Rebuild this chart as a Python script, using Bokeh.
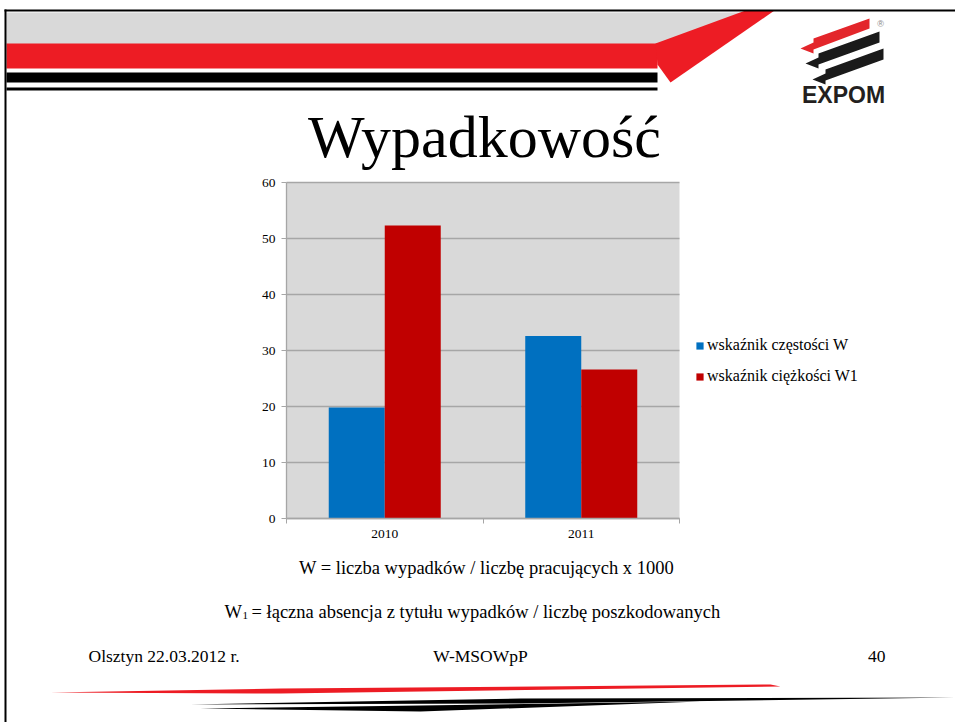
from bokeh.plotting import figure
from bokeh.models import (Range1d, FixedTicker, Legend, LegendItem, Label,
                          ColumnDataSource, LinearAxis)
from bokeh.transform import dodge
from bokeh.embed import file_html
from bokeh.resources import INLINE

# ---------------- data ----------------
years = ["2010", "2011"]
w_values = [19.8, 32.6]
w1_values = [52.3, 26.6]
y_ticks = [0, 10, 20, 30, 40, 50, 60]
series_names = ["wskaźnik częstości W", "wskaźnik ciężkości W1"]
series_colors = ["#0070C0", "#C00000"]

title_text = "Wypadkowość"
formula1 = "W = liczba wypadków / liczbę pracujących x 1000"
formula2_w = "W"
formula2_sub = "1"
formula2_rest = "= łączna absencja z tytułu wypadków / liczbę poszkodowanych"
footer_left = "Olsztyn 22.03.2012 r."
footer_mid = "W-MSOWpP"
footer_right = "40"
logo_text = "EXPOM"

# ---------------- layout (page pixels) ----------------
W, H = 955, 722
PL, PR, PT, PB = 286, 679, 182, 518      # plot area in page pixels
Y_MAX = y_ticks[-1]
N = len(years)

SERIF = "Liberation Serif"
SANS = "Liberation Sans"
BASE_SHIFT = 0.355   # rendered baseline sits this many em below the anchor

xs_per_px = N / (PR - PL)
ys_per_px = Y_MAX / (PB - PT)
x_rng = Range1d(-PL * xs_per_px, (W - PL) * xs_per_px)
y_rng = Range1d(-(H - PB) * ys_per_px, PB * ys_per_px)

p = figure(width=W, height=H, x_range=x_rng, y_range=y_rng,
           x_axis_type=None, y_axis_type=None,
           output_backend="svg", toolbar_location=None,
           min_border=0, min_border_left=0, min_border_right=0,
           min_border_top=0, min_border_bottom=0)
p.grid.visible = False
p.outline_line_color = None
p.background_fill_color = "white"
p.border_fill_color = "white"
p.extra_x_ranges = {"px": Range1d(0, W)}
p.extra_y_ranges = {"py": Range1d(H, 0)}


def box(l, t, r, b, color):
    p.quad(left=[l], right=[r], top=[t], bottom=[b], fill_color=color, line_color=None,
           x_range_name="px", y_range_name="py")


def poly(pts, color):
    p.patch(x=[a for a, _ in pts], y=[b for _, b in pts], fill_color=color, line_color=None,
            x_range_name="px", y_range_name="py")


def label(x, baseline, text, size, font=SERIF, align="left", color="black", style="normal"):
    y = baseline - BASE_SHIFT * size
    p.add_layout(Label(x=x, y=y, text=text, text_font=font, text_font_size=f"{size}px",
                       text_align=align, text_baseline="alphabetic",
                       text_color=color, text_font_style=style,
                       x_range_name="px", y_range_name="py"))


# ---------------- chart ----------------
p.quad(left=[0], right=[N], bottom=[0], top=[Y_MAX], fill_color="#D9D9D9", line_color=None)
p.segment(x0=[0] * len(y_ticks), x1=[N] * len(y_ticks), y0=y_ticks, y1=y_ticks,
          line_color="#A6A6A6", line_width=1.3)

yax = LinearAxis(fixed_location=0, bounds=(0, Y_MAX), ticker=FixedTicker(ticks=y_ticks))
yax.axis_line_color = "#A6A6A6"
yax.axis_line_width = 1.3
yax.major_tick_line_color = "#A6A6A6"
yax.major_tick_out = 5
yax.major_tick_in = 0
yax.minor_tick_line_color = None
yax.major_label_text_font = SERIF
yax.major_label_text_font_size = "13.5px"
yax.major_label_text_color = "#000000"
yax.major_label_standoff = 6
p.add_layout(yax, "left")

centres = [i + 0.5 for i in range(N)]
bounds = [i for i in range(N + 1)]
xax = LinearAxis(fixed_location=0, bounds=(0, N),
                 ticker=FixedTicker(ticks=centres, minor_ticks=bounds))
xax.major_label_overrides = {c: y for c, y in zip(centres, years)}
xax.axis_line_color = "#A6A6A6"
xax.axis_line_width = 1.3
xax.major_tick_line_color = None
xax.major_tick_out = 0
xax.major_tick_in = 0
xax.minor_tick_line_color = "#A6A6A6"
xax.minor_tick_out = 5
xax.minor_tick_in = 0
xax.major_label_text_font = SERIF
xax.major_label_text_font_size = "13.5px"
xax.major_label_text_color = "#000000"
xax.major_label_standoff = 6
p.add_layout(xax, "below")

src = ColumnDataSource(dict(x=centres, year=years, w=w_values, w1=w1_values))
bw = 0.285
r1 = p.vbar(x=dodge("x", -bw / 2), top="w", width=bw, source=src,
            fill_color=series_colors[0], line_color=None)
r2 = p.vbar(x=dodge("x", bw / 2), top="w1", width=bw, source=src,
            fill_color=series_colors[1], line_color=None)

legend = Legend(items=[LegendItem(label=series_names[0], renderers=[r1]),
                       LegendItem(label=series_names[1], renderers=[r2])],
                location=(695, H - 386))
legend.label_text_font = SERIF
legend.label_text_font_size = "16px"
legend.label_text_color = "black"
legend.glyph_width = 9
legend.glyph_height = 9
legend.label_standoff = 3
legend.label_height = 20
legend.spacing = 11
legend.padding = 0
legend.margin = 0
legend.border_line_color = None
legend.background_fill_alpha = 0
p.add_layout(legend, "center")

# ---------------- header ----------------
poly([(6, 12), (748, 12), (657, 44), (6, 44)], "#D9D9D9")
box(6, 43, 657, 68, "#ED1C24")
box(6, 72, 657, 82, "black")
box(6, 87, 657, 90, "black")
poly([(655, 43), (745, 10), (774, 10), (670, 82), (657, 64)], "#ED1C24")
box(4, 9, W, 11, "black")
box(4, 9, 6, H, "black")
# logo
poly([(800, 48), (813, 42), (813, 38), (869, 18), (869, 28), (813, 49), (813, 53)], "#E3262B")
poly([(805, 63), (818, 57), (818, 53), (879, 31), (879, 42), (818, 64), (818, 68)], "#1A1A1A")
poly([(812, 79), (825, 73), (825, 69), (883, 48), (883, 59), (825, 80), (825, 84)], "#1A1A1A")
label(843, 103, logo_text, 23, font=SANS, align="center", color="#231F20", style="bold")
label(880, 27, "®", 9, font=SANS, align="center", color="#888888")
label(484, 158, title_text, 60, align="center")

# ---------------- footer ----------------
label(486, 574, formula1, 18.5, align="center")
label(224, 618, formula2_w, 18.5)
label(242, 619, formula2_sub, 11)
label(251, 618, formula2_rest, 18.5)
label(88, 662, footer_left, 17.5)
label(480, 662, footer_mid, 17.5, align="center")
label(885, 662, footer_right, 17.5, align="right")
poly([(50, 692), (280, 688), (770, 684), (780, 686), (280, 693)], "#ED1C24")
poly([(190, 704), (520, 698), (955, 697), (520, 703)], "black")
poly([(200, 708), (420, 705), (700, 701), (420, 711)], "black")

open("out.html", "w").write(file_html(p, INLINE))
